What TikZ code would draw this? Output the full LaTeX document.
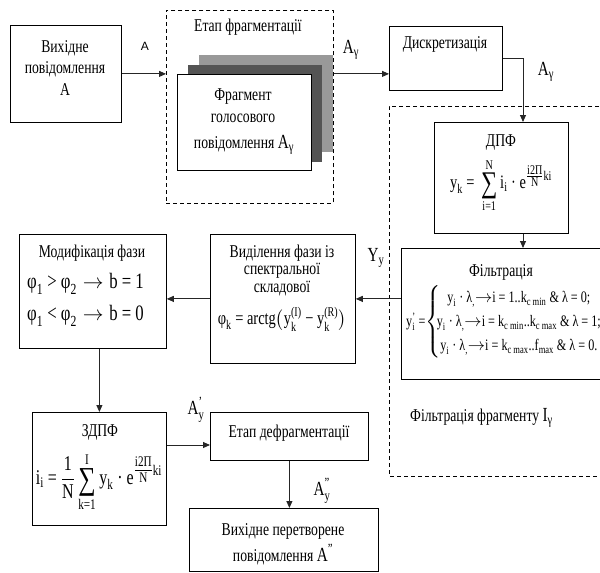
\documentclass[tikz,border=0pt]{standalone}
\usepackage{amsmath}
\usepackage{fontspec}
\setmainfont{Liberation Serif}[FakeStretch=0.76]
\setsansfont{Liberation Sans}
\usetikzlibrary{arrows.meta}
\newcommand\T[1]{\text{#1}}
\newcommand\bigsum[1]{\mathop{\raisebox{-0.22em}{\T{\fontsize{#1}{#1}\selectfont ∑}}}\limits}
\newcommand\ex[2]{^{\genfrac{}{}{0.4pt}{1}{\T{#1}}{\T{N}}\T{#2}}}
\begin{document}
\begin{tikzpicture}[x=1pt,y=-1pt,
  box/.style={draw, line width=0.8pt, inner sep=0pt, anchor=north west},
  dbox/.style={draw, dashed, dash pattern=on 4pt off 3pt, line width=0.7pt},
  txt/.style={font=\fontsize{18}{21.5}\selectfont, align=center, inner sep=0pt},
  fml/.style={font=\fontsize{19}{22}\selectfont, inner sep=0pt},
  arr/.style={-{Triangle[length=7pt,width=6pt]}, line width=0.9pt, draw=black!85}]
\useasboundingbox (0,0) rectangle (600,573);
\clip (0,0) rectangle (600,573);
% ---- boxes
\node[box, minimum width=111pt, minimum height=97pt] (src) at (10,25) {};
\node[box, draw=none, fill=black!40, minimum width=134pt, minimum height=97pt] (shL) at (199,55) {};
\node[box, draw=none, fill=black!67, minimum width=134pt, minimum height=97pt] (shD) at (188,65) {};
\node[box, fill=white, minimum width=134pt, minimum height=96pt] (front) at (177,74) {};
\node[box, minimum width=113pt, minimum height=64pt] (disc) at (389,26) {};
\node[box, minimum width=134pt, minimum height=111pt] (dpf) at (434,122) {};
\node[box, minimum width=220pt, minimum height=131pt] (filtbox) at (401,248) {};
\node[box, minimum width=145pt, minimum height=129pt] (vid) at (210,234) {};
\node[box, minimum width=147pt, minimum height=114pt] (mod) at (19,234) {};
\node[box, minimum width=134pt, minimum height=113pt] (zdpf) at (32,412) {};
\node[box, minimum width=158pt, minimum height=48pt] (defr) at (210,412) {};
\node[box, minimum width=189pt, minimum height=63pt] (out) at (189,508) {};
% dashed groups
\node[dbox, anchor=north west, minimum width=167pt, minimum height=193pt, inner sep=0pt] (frag) at (166,10) {};
\coordinate (fa) at (389,106);
\coordinate (fb) at (389,476);
\draw[dbox] (620,106) -- (fa) -- (fb) -- (620,476);
% ---- texts
\node[txt] (srcT) at (65,68) {Вихідне\\повідомлення\\A};
\node[txt] (fragT) at (248,27) {Етап фрагментації};
\node[txt] (frontT1) at (243,97) {Фрагмент};
\node[txt] (frontT2) at (243,118) {голосового};
\node[txt, anchor=base] (frontT3) at (244,148) {повідомлення \fontsize{20}{22}\selectfont$\T{A}_{\T{γ}}$};
\node[txt] (discT) at (445,44) {Дискретизація};
\node[txt] (dpfT) at (501,143) {ДПФ};
\node[fml] (dpfF) at (501,186) {$\T{y}_{\T{k}}\T{ = }\bigsum{30}_{\T{i=1}}^{\T{N}}\T{i}_{\T{i}}\T{ · e}\ex{i2П}{ki}$};
\node[txt] (filtT) at (501,272) {Фільтрація};
\node[fml, anchor=west, font=\fontsize{16}{20}\selectfont] (filtF) at (406,322) {$\T{y}_{\T{i}}^{\T{'}}\T{ =}\!\left\{\hspace{-4pt}\renewcommand\arraystretch{1.2}\begin{array}{@{}c@{}}
 \T{y}_{\T{i}}\T{ · λ}_{\T{,}}{\rightarrow}\T{i = 1..k}_{\T{c min}}\T{ \& λ = 0;}\\
 \T{y}_{\T{i}}\T{ · λ}_{\T{,}}{\rightarrow}\T{i = k}_{\T{c min}}\T{..k}_{\T{c max}}\T{ \& λ = 1;}\\
 \T{y}_{\T{i}}\T{ · λ}_{\T{,}}{\rightarrow}\T{i = k}_{\T{c max}}\T{..f}_{\T{max}}\T{ \& λ = 0.}
 \end{array}\right.$};
\node[txt, anchor=west] (filtG) at (410,418) {Фільтрація фрагменту \fontsize{20}{22}\selectfont$\T{I}_{\T{γ}}$};
\node[txt, font=\fontsize{18}{17.5}\selectfont] (vidT) at (282,270) {Виділення фази із\\спектральної\\складової};
\node[fml] (vidF) at (282,319) {$\T{φ}_{\T{k}}\T{ = arctg}\bigl(\T{y}_{\T{k}}^{\T{(I)}}\T{ − }\T{y}_{\T{k}}^{\T{(R)}}\bigr)$};
\node[txt] (modT) at (92,253) {Модифікація фази};
\node[fml, anchor=west, font=\fontsize{22}{24}\selectfont] (modF1) at (27,284) {$\T{φ}_{\T{1}}\T{ > φ}_{\T{2}}\rightarrow\T{b = 1}$};
\node[fml, anchor=west, font=\fontsize{22}{24}\selectfont] (modF2) at (27,316) {$\T{φ}_{\T{1}}\T{ < φ}_{\T{2}}\rightarrow\T{b = 0}$};
\node[txt] (zdpfT) at (100,432) {ЗДПФ};
\node[fml, font=\fontsize{21}{24}\selectfont] (zdpfF) at (99,482) {$\T{i}_{\T{i}}\T{ = }\dfrac{\T{1}}{\T{N}}\bigsum{32}_{\T{k=1}}^{\T{I}}\T{y}_{\T{k}}\T{ · e}\ex{i2П}{ki}$};
\node[txt] (defrT) at (289,433) {Етап дефрагментації};
\node[txt] (outT1) at (283,531) {Вихідне перетворене};
\node[txt, anchor=base] (outT2) at (283,561) {повідомлення \fontsize{20}{22}\selectfont$\T{A}^{\T{''}}$};
% ---- connector labels
\node[font=\sffamily\fontsize{12}{13}\selectfont, inner sep=0pt] (lA) at (145,46) {A};
\node[fml, font=\fontsize{20}{22}\selectfont] (lA1) at (351,50) {$\T{A}_{\T{γ}}$};
\node[fml, font=\fontsize{20}{22}\selectfont] (lA2) at (546,72) {$\T{A}_{\T{γ}}$};
\node[fml, font=\fontsize{20}{22}\selectfont] (lY) at (376,258) {$\T{Y}_{\T{y}}$};
\node[fml, font=\fontsize{20}{22}\selectfont] (lA3) at (196,410) {$\T{A}_{\T{y}}^{\T{'}}$};
\node[fml, font=\fontsize{20}{22}\selectfont] (lA4) at (322,491) {$\T{A}_{\T{y}}^{\T{''}}$};
% ---- connectors
\coordinate (j1) at (523,122);
\coordinate (j2) at (210,445);
\draw[arr] (src.east) -- (src.east -| frag.west);
\draw[arr] (src.east -| frag.east) -- (src.east -| disc.west);
\draw[arr] (disc.east) -| (j1);
\draw[arr] (j1 |- dpf.south) -- (j1 |- filtbox.north);
\draw[arr] (vid.east -| filtbox.west) -- (vid.east);
\draw[arr] (vid.west) -- (vid.west -| mod.east);
\draw[arr] (zdpf.north |- mod.south) -- (zdpf.north);
\draw[arr] (j2 -| zdpf.east) -- (j2);
\draw[arr] (defr.south) -- (defr.south |- out.north);
\end{tikzpicture}
\end{document}
